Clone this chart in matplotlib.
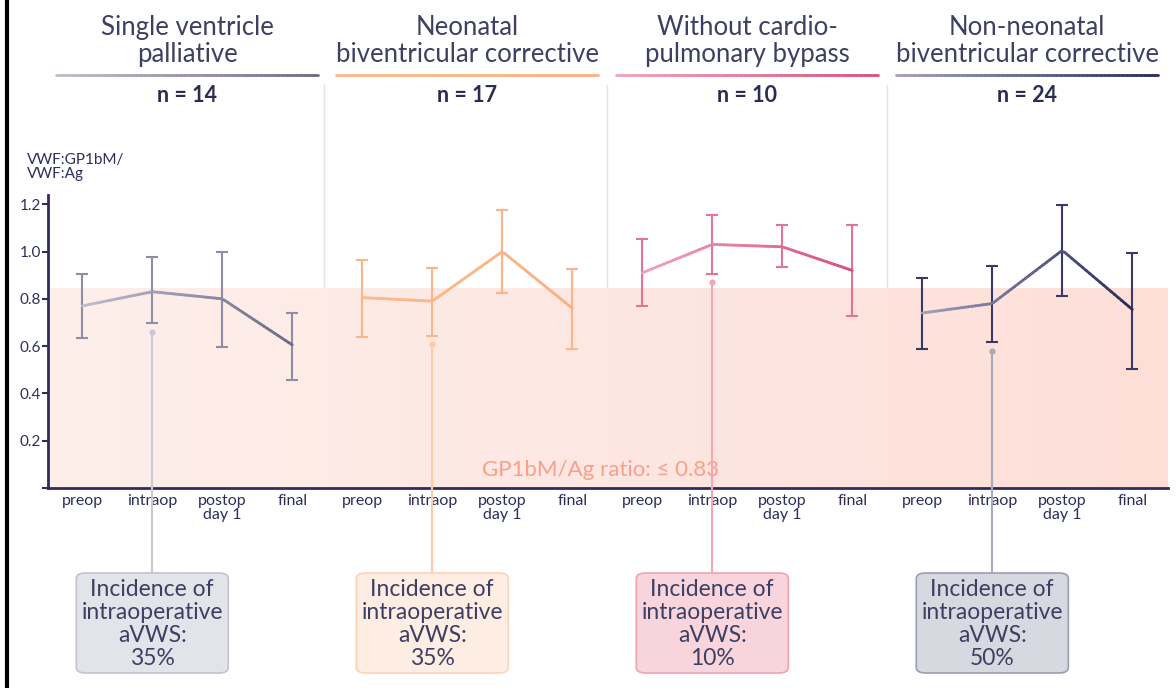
import numpy as np
import matplotlib
matplotlib.use("Agg")
import matplotlib.pyplot as plt
from matplotlib.collections import LineCollection
from matplotlib.patches import FancyBboxPatch
from matplotlib.colors import to_rgb
from matplotlib.lines import Line2D

plt.rcParams['font.family'] = ['Lato', 'DejaVu Sans']

groups = ["Single ventricle\npalliative", "Neonatal\nbiventricular corrective",
          "Without cardio-\npulmonary bypass", "Non-neonatal\nbiventricular corrective"]
n_sizes = [14, 17, 10, 24]
timepoints = ["preop", "intraop", "postop\nday 1", "final"]
means = [[0.77, 0.83, 0.80, 0.605],
         [0.805, 0.79, 1.00, 0.76],
         [0.91, 1.03, 1.02, 0.92],
         [0.74, 0.78, 1.005, 0.755]]
upper = [[0.905, 0.975, 0.998, 0.74],
         [0.963, 0.932, 1.177, 0.926],
         [1.051, 1.156, 1.111, 1.111],
         [0.887, 0.939, 1.197, 0.994]]
lower = [[0.633, 0.696, 0.595, 0.457],
         [0.638, 0.643, 0.826, 0.589],
         [0.77, 0.905, 0.934, 0.727],
         [0.589, 0.616, 0.812, 0.504]]
intraop_marker = [0.66, 0.61, 0.87, 0.58]
incidence = [35, 35, 10, 50]
threshold = 0.83

# per group: line start, line end, error bar, connector, box fill, box edge
line_start = ["#bdbdcc", "#fbb98c", "#f0a3b9", "#9ea0bd"]
line_end = ["#6c6c8a", "#fbb283", "#d9507b", "#2a2c5b"]
err_col = ["#8d8da6", "#fbb58a", "#e27593", "#373a68"]
conn_col = ["#c9c9d5", "#fccbab", "#f4a5b8", "#a9a9bd"]
box_fill = ["#e3e3ea", "#fdede2", "#f8d5dc", "#d8d8e1"]
box_edge = ["#c3c3cf", "#fcd3b7", "#efa3b3", "#9d9db2"]
text_col = "#3d4062"
axis_col = "#2c2f5e"


def blend(c0, c1, t):
    a, b = np.array(to_rgb(c0)), np.array(to_rgb(c1))
    return a + (b - a) * t


def gradient_line(target, xs, ys, c0, c1, lw, n=60, **kw):
    tx = np.linspace(xs[0], xs[-1], n)
    ty = np.interp(tx, xs, ys)
    pts = np.array([tx, ty]).T.reshape(-1, 1, 2)
    segs = np.concatenate([pts[:-1], pts[1:]], axis=1)
    cols = [blend(c0, c1, t) for t in np.linspace(0, 1, n - 1)]
    lc = LineCollection(segs, colors=cols, linewidths=lw, capstyle='round', **kw)
    if hasattr(target, "add_collection"):
        target.add_collection(lc)
    else:
        target.add_artist(lc)
    return lc


fig = plt.figure(figsize=(11.76, 6.88), dpi=100)
W, H = 1176, 688
ax = fig.add_axes([48 / W, 1 - 488 / H, 1120 / W, 293 / H])
ax.set_xlim(-0.49, 15.51)
ax.set_ylim(0, 1.239)


def to_fig(x, y):
    # data coords -> figure fraction
    px, py = ax.transData.transform((x, y))
    return px / W, py / H


# shaded threshold band with a soft gradient
grad = np.linspace(0, 1, 256)
band = np.array([blend("#fdefeb", "#fddfd8", t) for t in grad]).reshape(1, -1, 3)
ax.imshow(band, extent=[-0.49, 15.51, 0, 0.845], aspect='auto', zorder=0)

xs_all = []
for g in range(4):
    xs = np.arange(4) + 4 * g
    xs_all.extend(xs)
    m = np.array(means[g])
    up = np.array(upper[g])
    lo = np.array(lower[g])
    ax.errorbar(xs, m, yerr=[m - lo, up - m], fmt='none', ecolor=err_col[g],
                elinewidth=1.5, capsize=4.5, capthick=1.5, zorder=3)
    gradient_line(ax, xs, m, line_start[g], line_end[g], 2.0, zorder=4)
    ax.plot(xs[1], intraop_marker[g], 'o', ms=4.5, color=conn_col[g], zorder=2,
            mec='none')
    # connector down to the incidence box
    fx, fy = to_fig(xs[1], intraop_marker[g])
    fig.add_artist(Line2D([fx, fx], [fy, 1 - 572 / H], color=conn_col[g], lw=1.5,
                          zorder=1))

ax.set_xticks(xs_all)
ax.set_xticklabels(timepoints * 4, fontsize=11.5, color=axis_col, linespacing=1.0)
ax.tick_params(axis='x', length=0, pad=4)
ax.set_yticks([0, 0.2, 0.4, 0.6, 0.8, 1.0, 1.2])
ax.set_yticklabels(["", "0.2", "0.4", "0.6", "0.8", "1.0", "1.2"], fontsize=11,
                   color=axis_col)
ax.tick_params(axis='y', length=4, width=1.5, color=axis_col, pad=1)
for s in ['top', 'right']:
    ax.spines[s].set_visible(False)
for s in ['left', 'bottom']:
    ax.spines[s].set_color(axis_col)
    ax.spines[s].set_linewidth(2)
ax.patch.set_alpha(0)

ax.text(7.41, 0.075, "GP1bM/Ag ratio: \u2264 " + f"{threshold:.2f}",
        fontsize=16, color="#f8a08b", ha='center', va='center', zorder=5)

fig.text(27 / W, 1 - 167 / H, "VWF:GP1bM/\nVWF:Ag", fontsize=11, color=axis_col,
         ha='left', va='center', linespacing=1.0)

# separators between groups
for sx in [3.45, 7.5, 11.5]:
    px = to_fig(sx, 0)[0]
    fig.add_artist(Line2D([px, px], [1 - 85 / H, 1 - 447 / H], color="#e3e3e8", lw=1.0,
                          zorder=0))

# headers, underlines, n and boxes
for g in range(4):
    cx = to_fig(4 * g + 1.5, 0)[0]
    fig.text(cx, 1 - 41 / H, groups[g], fontsize=18.5, color=text_col, ha='center',
             va='center', linespacing=1.12)
    gradient_line(fig, [cx - 131 / W, cx + 131 / W], [1 - 75 / H, 1 - 75 / H],
                  line_start[g], line_end[g], 2.0, transform=fig.transFigure)
    fig.text(cx, 1 - 95 / H, f"n = {n_sizes[g]}", fontsize=15.5, color="#2a2d52",
             ha='center', va='center', fontweight='bold')
    bx = to_fig(4 * g + 1, 0)[0]
    bw, bh = 152 / W, 100 / H
    box = FancyBboxPatch((bx - bw / 2, 1 - 673 / H), bw, bh,
                         boxstyle="round,pad=0,rounding_size=0.008",
                         fc=box_fill[g], ec=box_edge[g], lw=1.2,
                         transform=fig.transFigure, zorder=2)
    fig.add_artist(box)
    fig.text(bx, 1 - 624 / H, f"Incidence of\nintraoperative\naVWS:\n{incidence[g]}%",
             fontsize=16.5, color=text_col, ha='center', va='center', linespacing=1.1,
             zorder=3)

# black edge bar at left
fig.add_artist(Line2D([6.5 / W, 6.5 / W], [0, 1], color='black', lw=3))

fig.savefig("out.png", dpi=100)
